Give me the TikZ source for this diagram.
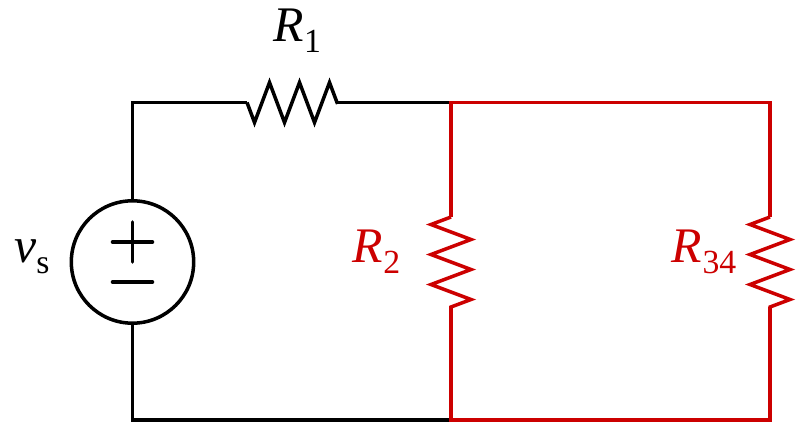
\documentclass[tikz,border=0pt]{standalone}
\usepackage{fontspec}
\setmainfont{Liberation Serif}
\usepackage{tikz}
\usetikzlibrary{calc}
\usetikzlibrary{decorations.pathmorphing}

\definecolor{wirered}{HTML}{CC0000}
\newcommand{\symb}[3]{\textit{#1}\kern#3\raisebox{-0.28cm}{\fontsize{24}{28}\selectfont #2}}

\begin{document}
\begin{tikzpicture}[
		wire/.style={line width=2.5pt,line join=miter},
		redwire/.style={wire,draw=wirered},
		resistor/.style={decorate,decoration={zigzag,mirror,segment length=0.75cm,amplitude=0.5cm}},
		source/.style={circle,draw,wire,inner sep=0pt,minimum size=3.06cm},
		symbol/.style={anchor=base west,inner sep=0pt,font=\fontsize{35.4}{40}\selectfont}
		]
		\useasboundingbox (0,0) rectangle (20,10.875);

		\coordinate (tl) at (3.3125,8.3125);
		\coordinate (tm) at (11.275,8.3125);
		\coordinate (tr) at (19.25,8.3125);
		\coordinate (bl) at (3.3125,0.375);
		\coordinate (bm) at (11.275,0.375);
		\coordinate (br) at (19.25,0.375);

		\coordinate (r1a) at (6.175,8.3125);
		\coordinate (r1b) at (8.425,8.3125);
		\coordinate (r2a) at (11.275,5.45);
		\coordinate (r2b) at (11.275,3.2);
		\coordinate (r34a) at (19.25,5.45);
		\coordinate (r34b) at (19.25,3.2);

		\node[source] (vs) at (3.3125,4.325) {};

		% sign marks inside the source
		\draw[wire,line cap=round] ($(vs)+(-0.5,0.5)$) -- ($(vs)+(0.5,0.5)$);
		\draw[wire,line cap=round] ($(vs)+(0,1)$) -- ($(vs)+(0,0)$);
		\draw[wire,line cap=round] ($(vs)+(-0.5,-0.5)$) -- ($(vs)+(0.5,-0.5)$);

		% black part
		\draw[wire] (vs.north) -- (tl) -- (r1a);
		\draw[wire,resistor] (r1a) -- (r1b);
		\draw[wire] (r1b) -- (tm);
		\draw[wire] (vs.south) -- (bl) -- (bm);

		% red part
		\draw[redwire] (r2a) -- (tm) -- (tr) -- (r34a);
		\draw[redwire,resistor] (r2a) -- (r2b);
		\draw[redwire,resistor] (r34a) -- (r34b);
		\draw[redwire] (r2b) -- (bm) -- (br) -- (r34b);

		\node[symbol] (labelr1) at (6.82,9.84) {\symb{R}{1}{0.5pt}};
		\node[symbol] (labelvs) at (0.35,4.325) {\symb{v}{s}{0pt}};
		\node[symbol,text=wirered] (labelr2) at (8.8,4.325) {\symb{R}{2}{0.5pt}};
		\node[symbol,text=wirered] (labelr34) at (16.78,4.325) {\symb{R}{34}{0.5pt}};
\end{tikzpicture}
\end{document}
